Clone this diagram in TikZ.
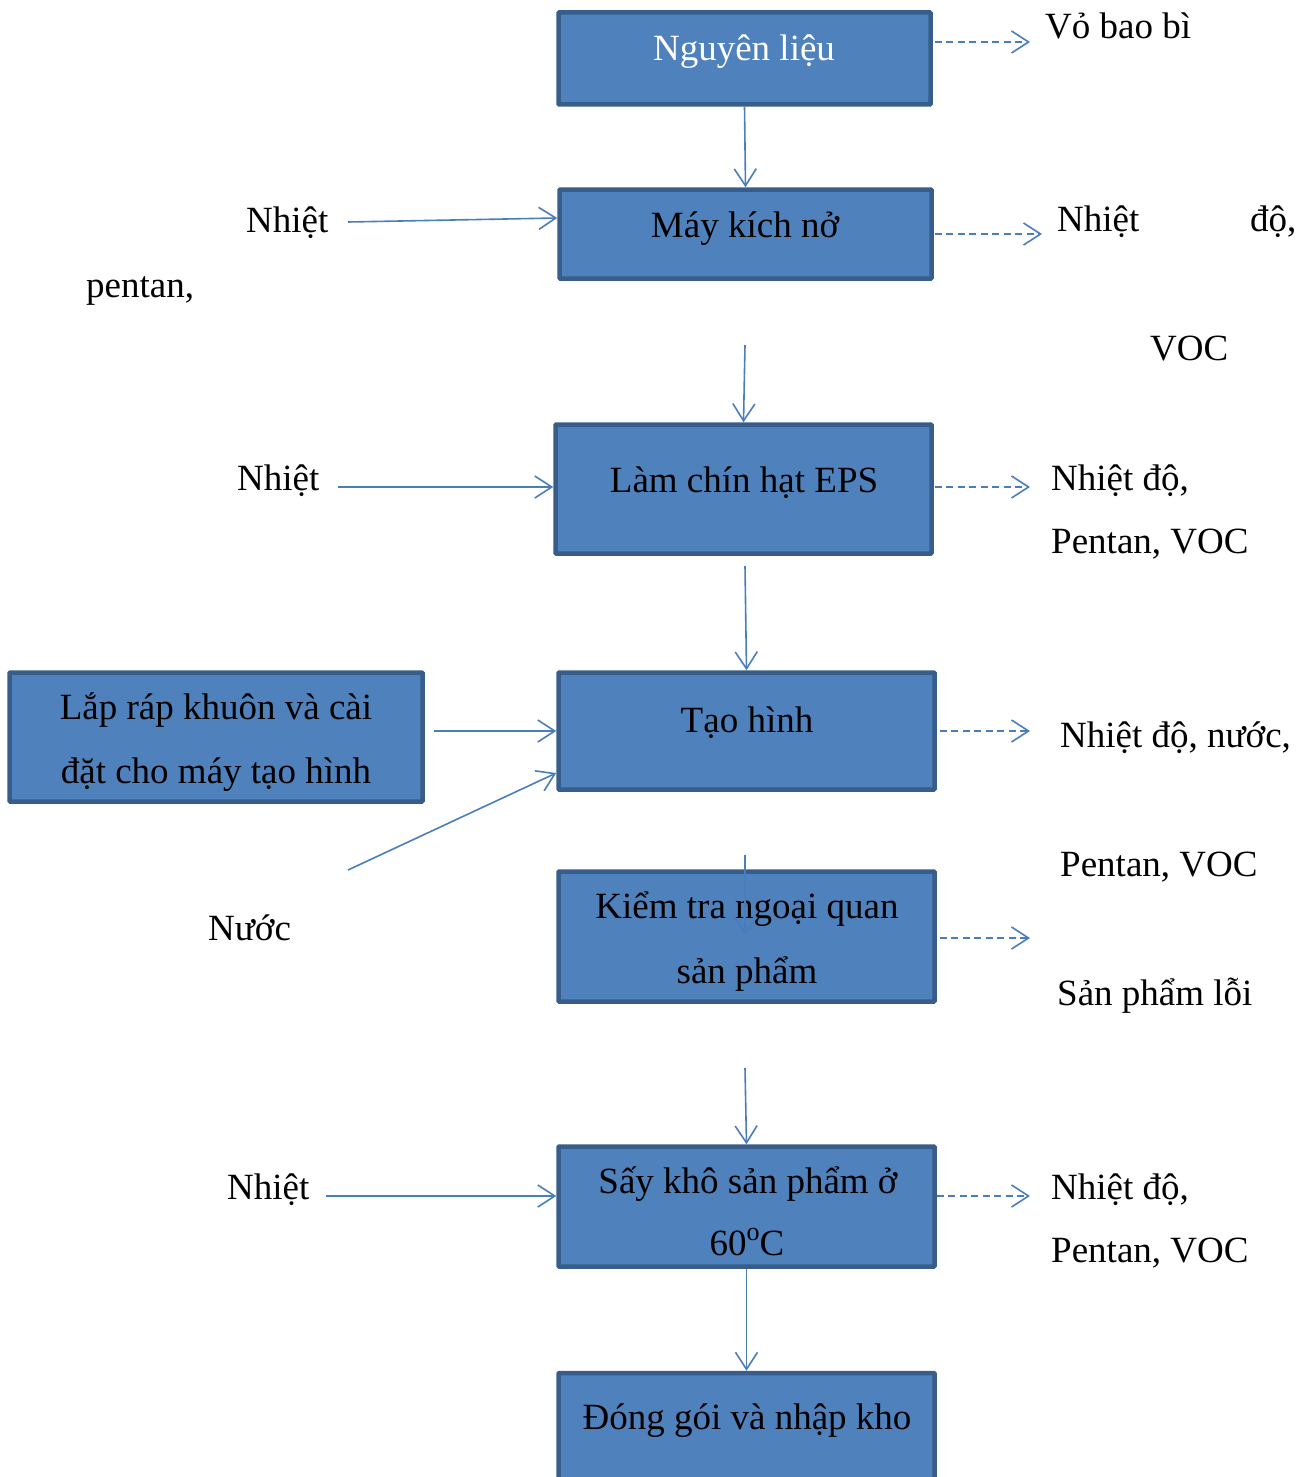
\documentclass[tikz,border=0pt]{standalone}
\usepackage{fontspec}
\setmainfont{Liberation Serif}
\usetikzlibrary{arrows.meta}

\definecolor{boxfill}{HTML}{4F81BD}
\definecolor{boxedge}{HTML}{385D8A}
\definecolor{linkblue}{HTML}{4A7EBB}

\tikzset{
  stage/.style={draw=boxedge, fill=boxfill, line width=4.5pt, rectangle,
    inner sep=0pt, rounded corners=0.8pt},
  txt/.style={font=\fontsize{37}{44}\selectfont, inner sep=0pt, anchor=base west},
  ctxt/.style={font=\fontsize{37}{44}\selectfont, inner sep=0pt, anchor=base},
  flow/.style={draw=linkblue, line width=1.6pt,
    -{Straight Barb[length=17pt,width=22pt,line width=1.6pt]}},
  waste/.style={flow, dash pattern=on 7pt off 4.5pt}
}
\newcommand{\degsup}{\raisebox{15pt}{\fontsize{26}{26}\selectfont o}}

\begin{document}
\begin{tikzpicture}[x=1pt,y=-1pt]
\useasboundingbox (0,0) rectangle (1310,1477);
\clip (0,0) rectangle (1310,1477);

% process boxes
\node[stage, minimum width=372pt, minimum height=92pt]  (nl) at (744.5,58.5) {};
\node[stage, minimum width=372pt, minimum height=89pt]  (mk) at (745.5,234) {};
\node[stage, minimum width=376pt, minimum height=129pt] (lc) at (743.5,489) {};
\node[stage, minimum width=376pt, minimum height=117pt] (th) at (746.5,731) {};
\node[stage, minimum width=413pt, minimum height=129pt] (lr) at (216,737) {};
\node[stage, minimum width=376pt, minimum height=130pt] (kt) at (746.5,936.5) {};
\node[stage, minimum width=376pt, minimum height=120pt] (sk) at (746.5,1206.5) {};
\node[stage, minimum width=376pt, minimum height=147pt] (dg) at (746.5,1446.5) {};

% box captions
\node[ctxt, text=white] (nlt) at (744,61) {Nguyên liệu};
\node[ctxt] (mkt) at (745,237) {Máy kích nở};
\node[ctxt] (lct) at (744,492) {Làm chín hạt EPS};
\node[ctxt] (tht) at (747,732) {Tạo hình};
\node[ctxt] (lrt1) at (216,719) {Lắp ráp khuôn và cài};
\node[ctxt] (lrt2) at (216,783) {đặt cho máy tạo hình};
\node[ctxt] (ktt1) at (747,918) {Kiểm tra ngoại quan};
\node[ctxt] (ktt2) at (747,983) {sản phẩm};
\node[ctxt] (skt1) at (748,1193) {Sấy khô sản phẩm ở};
\node[ctxt] (skt2) at (747,1255) {60\degsup C};
\node[ctxt] (dgt) at (747,1429) {Đóng gói và nhập kho};

% inputs on the left
\node[txt] (in1) at (246,232) {Nhiệt};
\node[txt] (in1b) at (86,297) {pentan,};
\node[txt] (in2) at (237,490) {Nhiệt};
\node[txt] (in3) at (208,940) {Nước};
\node[txt] (in4) at (227,1199) {Nhiệt};

% outputs on the right
\node[txt] (out1) at (1045,39) {Vỏ bao bì};
\node[txt] (out2a) at (1057,231) {Nhiệt};
\node[txt] (out2b) at (1250,231) {độ,};
\node[txt] (out2c) at (1150,360) {VOC};
\node[txt] (out3a) at (1051,490) {Nhiệt độ,};
\node[txt] (out3b) at (1051,553) {Pentan, VOC};
\node[txt] (out4a) at (1060,747) {Nhiệt độ, nước,};
\node[txt] (out4b) at (1060,876) {Pentan, VOC};
\node[txt] (out5) at (1057,1005) {Sản phẩm lỗi};
\node[txt] (out6a) at (1051,1199) {Nhiệt độ,};
\node[txt] (out6b) at (1051,1262) {Pentan, VOC};

% free ends of connectors
\coordinate (v1) at (745,345);
\coordinate (v2) at (745,566);
\coordinate (v3) at (745,855);
\coordinate (v4) at (745,935);
\coordinate (v5) at (745,1068);
\coordinate (h1) at (348,222);
\coordinate (h2) at (338,487);
\coordinate (h3) at (434,731);
\coordinate (h4) at (348,870);
\coordinate (h5) at (326,1196);
\coordinate (d1) at (1030,42);
\coordinate (d2) at (1042,234);
\coordinate (d3) at (1030,487);
\coordinate (d4) at (1030,731);
\coordinate (d5) at (1030,938);
\coordinate (d6) at (1030,1196);

% main flow
\draw[flow] (nl.south) -- (mk.north);
\draw[flow] (v1) -- (lc.north);
\draw[flow] (v2) -- (th.north);
\draw[flow] (v3) -- (v4);
\draw[flow] (v5) -- (sk.north);
\draw[flow] (sk.south) -- (dg.north);

% inputs
\draw[flow] (h1) -- ([yshift=16pt]mk.west);
\draw[flow] (h2) -- (h2 -| lc.west);
\draw[flow] (h3) -- (h3 -| th.west);
\draw[flow] (h4) -- ([yshift=-42pt]th.west);
\draw[flow] (h5) -- (h5 -| sk.west);

% emissions
\draw[waste] ([yshift=16.5pt,xshift=2pt]nl.east) -- (d1);
\draw[waste] ([xshift=1pt]mk.east) -- (d2);
\draw[waste] ([yshift=2pt,xshift=1pt]lc.east) -- (d3);
\draw[waste] ([xshift=3pt]th.east) -- (d4);
\draw[waste] ([yshift=-1.5pt,xshift=3pt]kt.east) -- (d5);
\draw[waste] ([yshift=10.5pt]sk.east) -- (d6);
\end{tikzpicture}
\end{document}
